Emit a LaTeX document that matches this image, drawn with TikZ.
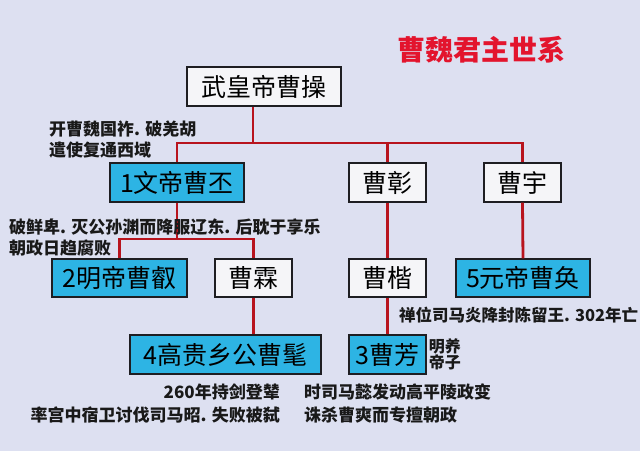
\documentclass[tikz,border=0pt]{standalone}
\usepackage{fontspec}
\newfontfamily\cjk{Noto Sans CJK SC}
\definecolor{bg}{HTML}{DDE0F1}
\definecolor{boxblue}{HTML}{2DB4E4}
\definecolor{boxwhite}{HTML}{F5F5F8}
\definecolor{linered}{HTML}{B8141E}
\definecolor{titlered}{HTML}{E3142D}
\definecolor{edge}{HTML}{1E1E22}
\begin{document}
\begin{tikzpicture}[x=1pt,y=-1pt,
  person/.style={draw=edge,line width=1.4pt,fill=boxwhite,minimum height=39pt,inner sep=0pt,
    font=\cjk\fontsize{25}{25}\selectfont,text=black},
  ruler/.style={person,fill=boxblue},
  link/.style={draw=linered,line width=2.8pt},
  note/.style={font=\cjk\bfseries\fontsize{17}{21}\selectfont,text=black!90,inner sep=0pt,align=left},
  notel/.style={note,anchor=west},
  noter/.style={note,anchor=east,align=right}]
\useasboundingbox (0,0) rectangle (640,451);
\fill[bg] (0,0) rectangle (640,451);
% title
\node[font=\cjk\bfseries\fontsize{28}{28}\selectfont,text=titlered,inner sep=0pt] (title) at (481.5,50) {曹魏君主世系};
% persons
\node[person,minimum width=154pt] (top) at (264,86.5) {武皇帝曹操};
\node[ruler,minimum width=134pt] (wen) at (177,182.5) {1文帝曹丕};
\node[person,minimum width=77pt] (zhang) at (387.5,182.5) {曹彰};
\node[person,minimum width=77pt] (yu) at (522.5,182.5) {曹宇};
\node[ruler,minimum width=135pt,minimum height=38pt] (ming) at (119.5,278) {2明帝曹叡};
\node[person,minimum width=77pt,minimum height=38pt] (lin) at (253.5,278) {曹霖};
\node[person,minimum width=77pt,minimum height=38pt] (kai) at (387.5,278) {曹楷};
\node[ruler,minimum width=134pt,minimum height=38pt] (huan) at (523,278) {5元帝曹奂};
\node[ruler,minimum width=191pt] (mao) at (225.5,354.5) {4高贵乡公曹髦};
\node[ruler,minimum width=77pt] (fang) at (387.5,354.5) {3曹芳};
% connectors
\coordinate (j1) at (253,143);
\coordinate (j2) at (177,239);
\draw[link] ([xshift=-11pt]top.south) -- (j1);
\draw[link] (wen.north) -- (wen.north |- j1) -- (yu.north |- j1) -- (yu.north);
\draw[link] (zhang.north) -- (zhang.north |- j1);
\draw[link] (wen.south) -- (j2);
\draw[link] (ming.north) -- (ming.north |- j2) -- (lin.north |- j2) -- (lin.north);
\draw[link] (zhang.south) -- (kai.north);
\draw[link] (yu.south) -- (huan.north);
\draw[link] (lin.south) -- (lin.south |- mao.north);
\draw[link] (kai.south) -- (fang.north);
% notes
\node[notel] (n1) at (49,129) {开曹魏国祚. 破羌胡};
\node[notel] (n2) at (49,150) {遣使复通西域};
\node[notel] (n3) at (9,227) {破鲜卑. 灭公孙渊而降服辽东. 后耽于享乐};
\node[notel] (n4) at (9,248) {朝政日趋腐败};
\node[notel,font=\cjk\bfseries\fontsize{16.5}{20}\selectfont] (n5) at (399,315) {禅位司马炎降封陈留王. 302年亡};
\node[notel,font=\cjk\bfseries\fontsize{16}{15}\selectfont,xshift=2pt] (n6) at (fang.east) {明养\\帝子};
\node[noter] (n7) at (280,392) {260年持剑登辇};
\node[noter] (n8) at (280,415) {率宫中宿卫讨伐司马昭. 失败被弑};
\node[notel] (n9) at (304,392) {时司马懿发动高平陵政变};
\node[notel] (n10) at (304,415) {诛杀曹爽而专擅朝政};
\end{tikzpicture}
\end{document}
